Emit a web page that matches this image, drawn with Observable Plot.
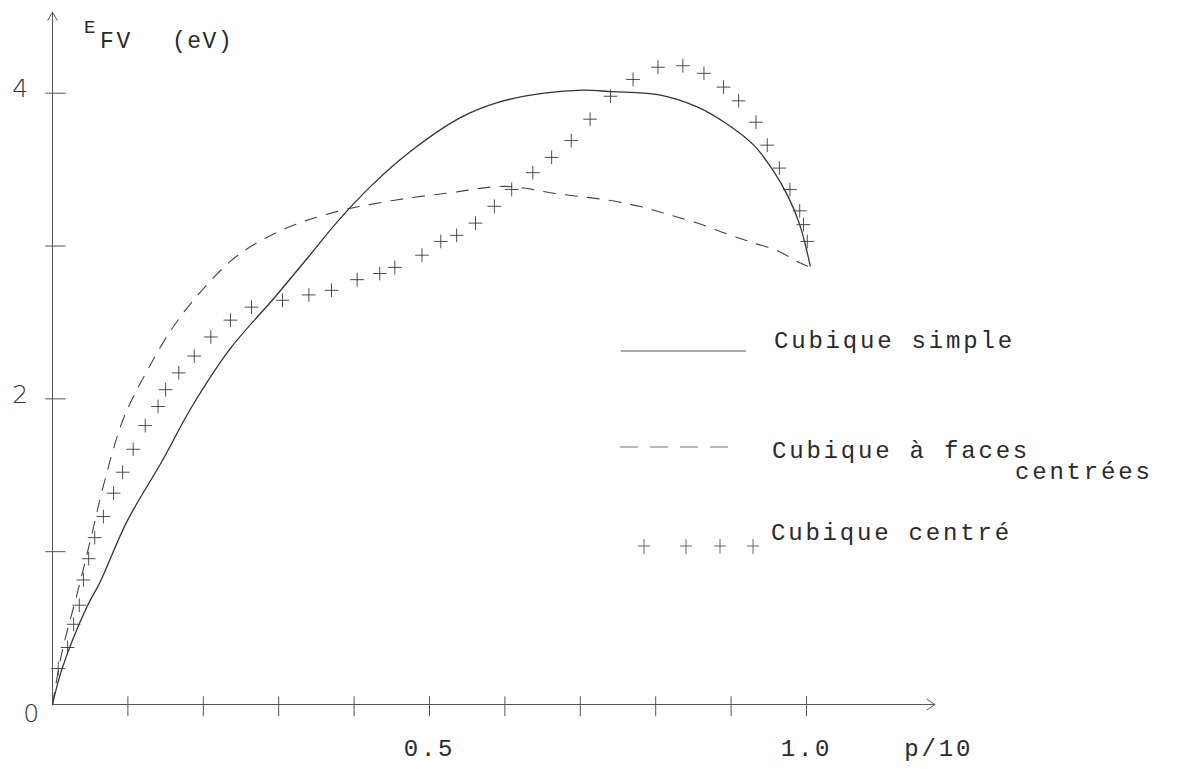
<!DOCTYPE html>
<html>
<head>
<meta charset="utf-8">
<script src="https://cdn.jsdelivr.net/npm/d3@7"></script>
<script src="https://cdn.jsdelivr.net/npm/@observablehq/plot@0.6"></script>
<style>
  body { margin: 0; background: #fff; }
  #chart { width: 1200px; height: 769px; }
  #chart svg text { letter-spacing: 2.8px; }
</style>
</head>
<body>
<div id="chart"></div>
<script>
// ---- Data (p/10 on x, E_FV in eV on y) ----
const simpleP = [0, 0.0127, 0.0457, 0.063, 0.099, 0.145, 0.185, 0.236, 0.294, 0.338, 0.378, 0.424, 0.475, 0.541, 0.591, 0.652, 0.703, 0.742, 0.803, 0.855, 0.894, 0.93, 0.955, 0.975, 0.991, 1.005];
const simpleE = [0, 0.235, 0.64, 0.80, 1.20, 1.59, 1.95, 2.33, 2.66, 2.92, 3.16, 3.40, 3.62, 3.84, 3.94, 4.00, 4.02, 4.01, 3.99, 3.91, 3.80, 3.66, 3.50, 3.33, 3.14, 2.87];

const fccP = [0, 0.0127, 0.033, 0.051, 0.0685, 0.094, 0.124, 0.16, 0.20, 0.246, 0.307, 0.373, 0.454, 0.53, 0.60, 0.673, 0.737, 0.778, 0.814, 0.855, 0.894, 0.93, 0.961, 0.991, 1.005];
const fccE = [0, 0.345, 0.73, 1.09, 1.45, 1.87, 2.17, 2.47, 2.72, 2.94, 3.11, 3.22, 3.30, 3.35, 3.39, 3.34, 3.30, 3.26, 3.21, 3.15, 3.08, 3.02, 2.97, 2.89, 2.86];

const bccP = [0.0076, 0.020, 0.028, 0.0355, 0.041, 0.048, 0.056, 0.0675, 0.081, 0.093, 0.107, 0.123, 0.14, 0.15, 0.1675, 0.188, 0.21, 0.236, 0.264, 0.305, 0.34, 0.37, 0.404, 0.434, 0.454, 0.49, 0.515, 0.536, 0.561, 0.586, 0.609, 0.637, 0.662, 0.688, 0.713, 0.74, 0.77, 0.803, 0.836, 0.864, 0.89, 0.91, 0.933, 0.948, 0.964, 0.978, 0.991, 0.996, 1.001];
const bccE = [0.235, 0.373, 0.525, 0.65, 0.815, 0.954, 1.092, 1.23, 1.383, 1.52, 1.67, 1.825, 1.95, 2.06, 2.17, 2.28, 2.405, 2.515, 2.60, 2.645, 2.68, 2.71, 2.78, 2.82, 2.86, 2.94, 3.03, 3.07, 3.15, 3.26, 3.37, 3.48, 3.58, 3.69, 3.83, 3.98, 4.09, 4.17, 4.18, 4.13, 4.04, 3.95, 3.81, 3.66, 3.51, 3.37, 3.23, 3.14, 3.03];

const xTicks = [0.1, 0.2, 0.3, 0.4, 0.5, 0.6, 0.7, 0.8, 0.9, 1.0];
const xTickLabels = [0.5, 1.0];
const yTicks = [1, 2, 3, 4];
const yTickLabels = [2, 4];
const xAxisEnd = 1.17;
const yAxisEnd = 4.53;
const xTitle = "p/10";
const yTitleMain = "E", yTitleSub = "FV", yTitleUnit = "(eV)";
const seriesNames = ["Cubique simple", "Cubique à faces", "centrées", "Cubique centré"];

// ---- Tables ----
const simple = simpleP.map((p, i) => ({p, e: simpleE[i]}));
const fcc = fccP.map((p, i) => ({p, e: fccE[i]}));
const bcc = bccP.map((p, i) => ({p, e: bccE[i]}));

const mono = "'Liberation Mono', 'DejaVu Sans Mono', monospace";
const ink = "#2a2a2a";
const axisInk = "#555";

const plot = Plot.plot({
  width: 1200,
  height: 769,
  marginLeft: 52,
  marginRight: 17,
  marginTop: 1,
  marginBottom: 65,
  x: {domain: [0, 1.5], axis: null},
  y: {domain: [0, 4.6], axis: null},
  style: {background: "#fff", color: ink},
  marks: [
    Plot.arrow([{x1: 0, y1: 0, x2: xAxisEnd, y2: 0}], {x1: "x1", y1: "y1", x2: "x2", y2: "y2", stroke: axisInk, strokeWidth: 1, headLength: 14, headAngle: 70}),
    Plot.arrow([{x1: 0, y1: 0, x2: 0, y2: yAxisEnd}], {x1: "x1", y1: "y1", x2: "x2", y2: "y2", stroke: axisInk, strokeWidth: 1, headLength: 14, headAngle: 60}),
    Plot.ruleX(xTicks, {x: d => d, y1: -0.08, y2: 0.05, stroke: axisInk, strokeWidth: 1}),
    Plot.ruleY(yTicks, {y: d => d, x1: -0.009, x2: 0.018, stroke: axisInk, strokeWidth: 1}),
    Plot.text(xTickLabels, {x: d => d, y: 0, text: d => d.toFixed(1), dy: 44, fontFamily: mono, fontSize: 24, fill: ink}),
    Plot.text([xTitle], {x: () => xAxisEnd, y: 0, text: d => d, dy: 44, dx: 4, fontFamily: mono, fontSize: 24, fill: ink}),
    Plot.text(yTickLabels, {x: 0, y: d => d, text: d => String(d), dx: -31, dy: -4, fontFamily: "'DejaVu Sans', sans-serif", fontWeight: 300, fontSize: 25, fill: "#333"}),
    Plot.text([0], {x: 0, y: 0, text: d => String(d), dx: -20, dy: 9, fontFamily: "'DejaVu Sans', sans-serif", fontWeight: 300, fontSize: 25, fill: "#333"}),
    Plot.line(simple, {x: "p", y: "e", curve: "catmull-rom", stroke: "#333", strokeWidth: 1.3}),
    Plot.line(fcc, {x: "p", y: "e", curve: "catmull-rom", stroke: "#444", strokeWidth: 1.1, strokeDasharray: "12,10"}),
    Plot.dot(bcc, {x: "p", y: "e", symbol: "plus", r: 4.5, stroke: "#3a3a3a", strokeWidth: 0.9})
  ]
});

document.getElementById("chart").appendChild(plot);

// ---- Title and legend (layout in pixels) ----
const svg = d3.select(plot);
const g = svg.append("g").attr("fill", ink).attr("font-family", mono).attr("text-anchor", "start");

g.append("text").attr("x", 84).attr("y", 33).attr("font-size", 19).text(yTitleMain);
g.append("text").attr("x", 100).attr("y", 48).attr("font-size", 23).text(yTitleSub);
g.append("text").attr("x", 172).attr("y", 48).attr("font-size", 23).style("letter-spacing", "1.5px").text(yTitleUnit);

const lg = svg.append("g").attr("text-anchor", "start").attr("font-family", mono).attr("font-size", 24).attr("fill", ink);
// solid
lg.append("line").attr("x1", 621).attr("x2", 746).attr("y1", 351).attr("y2", 351)
  .attr("stroke", "#555").attr("stroke-width", 1);
lg.append("text").attr("x", 774).attr("y", 348).text(seriesNames[0]);
// dashed
lg.append("line").attr("x1", 620).attr("x2", 736).attr("y1", 447).attr("y2", 447)
  .attr("stroke", "#777").attr("stroke-width", 1).attr("stroke-dasharray", "18,12");
lg.append("text").attr("x", 772).attr("y", 458).text(seriesNames[1]);
lg.append("text").attr("x", 1015).attr("y", 479).text(seriesNames[2]);
// crosses
const crossX = [644, 686, 720, 753];
crossX.forEach(cx => {
  lg.append("path").attr("d", `M${cx - 6},546H${cx + 6}M${cx},539V554`).attr("stroke", "#666").attr("stroke-width", 1).attr("fill", "none");
});
lg.append("text").attr("x", 771).attr("y", 540).text(seriesNames[3]);
</script>
</body>
</html>
